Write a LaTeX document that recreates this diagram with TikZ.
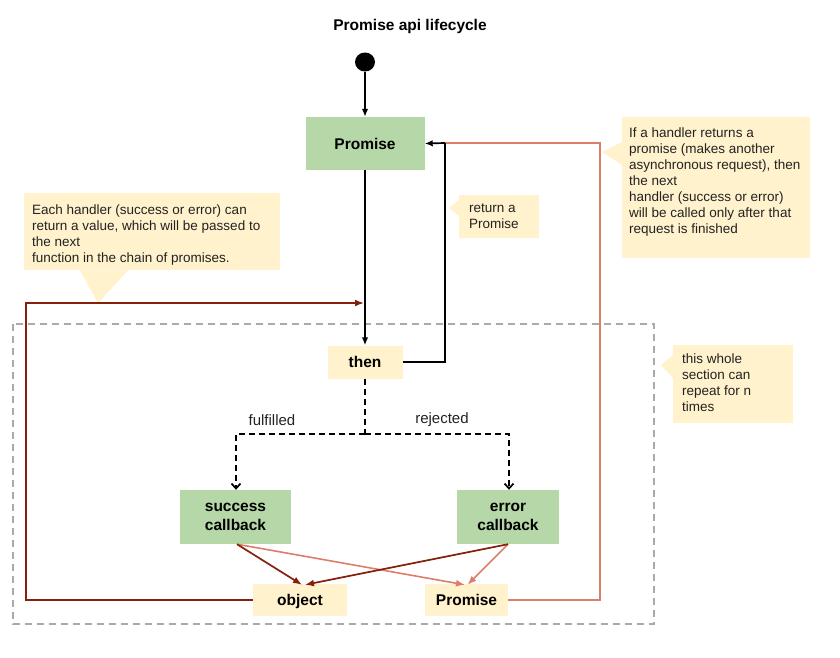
\documentclass[tikz,border=0pt]{standalone}
\usepackage{fontspec}
\setmainfont{Liberation Sans}
\usetikzlibrary{arrows.meta,shapes.geometric}
\definecolor{boxgreen}{HTML}{B6D7A8}
\definecolor{noteyel}{HTML}{FFF2CC}
\definecolor{darkred}{HTML}{85200C}
\definecolor{salmon}{HTML}{DD7E6B}
\definecolor{framegray}{HTML}{AAAAAA}
\definecolor{txt}{HTML}{222222}
\begin{document}
\begin{tikzpicture}[x=1pt,y=-1pt,
  greenbox/.style={fill=boxgreen, text=black, font=\bfseries\fontsize{15.5}{19}\selectfont, align=center, inner sep=0pt},
  yelbox/.style={fill=noteyel, text=black, font=\bfseries\fontsize{15.5}{19}\selectfont, inner sep=0pt, text height=12pt, text depth=1pt},
  note/.style={fill=noteyel, inner sep=0pt, anchor=north west},
  notetext/.style={text=txt, font=\fontsize{13.5}{16}\selectfont, align=left, inner sep=0pt, anchor=north west},
  edgelabel/.style={text=txt, font=\fontsize{15}{18}\selectfont, inner sep=0pt},
  blkline/.style={draw=black, line width=1.7pt},
  blkarrow/.style={blkline, -{Latex[length=8pt,width=6.5pt]}},
  dashline/.style={draw=black, line width=1.7pt, dash pattern=on 6pt off 4pt},
  dasharrow/.style={dashline, -{Straight Barb[length=5pt,width=9pt]}},
  drline/.style={draw=darkred, line width=1.7pt},
  drarrow/.style={drline, -{Latex[length=9pt,width=7pt]}},
  salline/.style={draw=salmon, line width=1.6pt},
  salarrow/.style={salline, -{Latex[length=9pt,width=7pt]}},
  frame/.style={draw=framegray, line width=1.5pt, dash pattern=on 7pt off 5pt}
]
\useasboundingbox (0,0) rectangle (840,657);
\fill[white] (0,0) rectangle (840,657);

% title
\node[text=black, font=\bfseries\fontsize{15.5}{19}\selectfont, inner sep=0pt] (title) at (410,26) {Promise api lifecycle};

% repeat frame
\draw[frame] (13,324) rectangle (654,624);

% nodes
\node[ellipse, fill=black, minimum width=20pt, minimum height=19pt, inner sep=0pt] (start) at (365,62) {};
\node[greenbox, minimum width=119pt, minimum height=53pt] (promise) at (365,143.5) {Promise};
\node[yelbox, minimum width=75pt, minimum height=33pt] (then) at (365,362) {then};
\node[greenbox, minimum width=111pt, minimum height=54pt] (success) at (235.5,517) {success\\callback};
\node[greenbox, minimum width=102pt, minimum height=54pt] (error) at (508,517) {error\\callback};
\node[yelbox, minimum width=94pt, minimum height=32pt] (object) at (300,600) {object};
\node[yelbox, minimum width=83pt, minimum height=32pt] (promise2) at (466.5,600) {Promise};

% edge labels
\node[edgelabel] (fulfilled) at (272,420) {fulfilled};
\node[edgelabel] (rejected) at (442,420) {rejected};

% callouts
\node[note, minimum width=256pt, minimum height=77pt] (lnote) at (24,193) {};
\fill[noteyel] ([xshift=56pt]lnote.south west) -- (98,303) -- ([xshift=104pt]lnote.south west) -- cycle;
\node[notetext] (lnotetext) at (32,204.5) {Each handler (success or error) can\\return a value, which will be passed to\\the next\\function in the chain of promises.};

\node[note, minimum width=188pt, minimum height=141pt] (rnote) at (622,117) {};
\fill[noteyel] (622,142) -- (602,152) -- (622,165) -- cycle;
\node[notetext] (rnotetext) at (629,128) {If a handler returns a\\promise (makes another\\asynchronous request), then\\the next\\handler (success or error)\\will be called only after that\\request is finished};

\node[note, minimum width=80pt, minimum height=43pt] (retnote) at (459,195) {};
\fill[noteyel] (459,200) -- (449,208) -- (459,216) -- cycle;
\node[notetext] (retnotetext) at (469,203.5) {return a\\Promise};

\node[note, minimum width=120pt, minimum height=78pt] (wnote) at (673,345) {};
\fill[noteyel] (673,355) -- (661,365) -- (673,378) -- cycle;
\node[notetext] (wnotetext) at (682,354) {this whole\\section can\\repeat for n\\times};

% coordinates for connectors
\coordinate (loopc) at (445,143);
\coordinate (sr) at (600,143);
\coordinate (dl) at (26,303);
\coordinate (dj) at (364,303);
\coordinate (split) at (365,434);

% salmon return path
\draw[salline] (promise2.east) -| (sr) -- (loopc);
% dark red return path
\draw[drarrow] (object.west) -| (dl) -- (dj);

% main black flow
\draw[blkarrow] (start.south) -- (promise.north);
\draw[blkarrow] (promise.south) -- (then.north);
\draw[blkline] (then.east) -| (loopc);
\draw[blkarrow] (loopc) -- (promise.east);

% dashed split
\draw[dashline] (then.south) -- (split);
\draw[dasharrow] (split) -| ([xshift=0.5pt]success.north);
\draw[dasharrow] (split) -| ([xshift=1pt]error.north);

% callback results
\draw[salarrow] ([xshift=1.5pt]success.south) -- ([xshift=-1.5pt,yshift=-1pt]promise2.north);
\draw[salarrow] (error.south) -- ([xshift=1pt,yshift=-1pt]promise2.north);
\draw[drarrow] ([xshift=1.5pt]success.south) -- ([xshift=2pt,yshift=-1pt]object.north);
\draw[drarrow] (error.south) -- ([xshift=5pt,yshift=-1pt]object.north);
\end{tikzpicture}
\end{document}
